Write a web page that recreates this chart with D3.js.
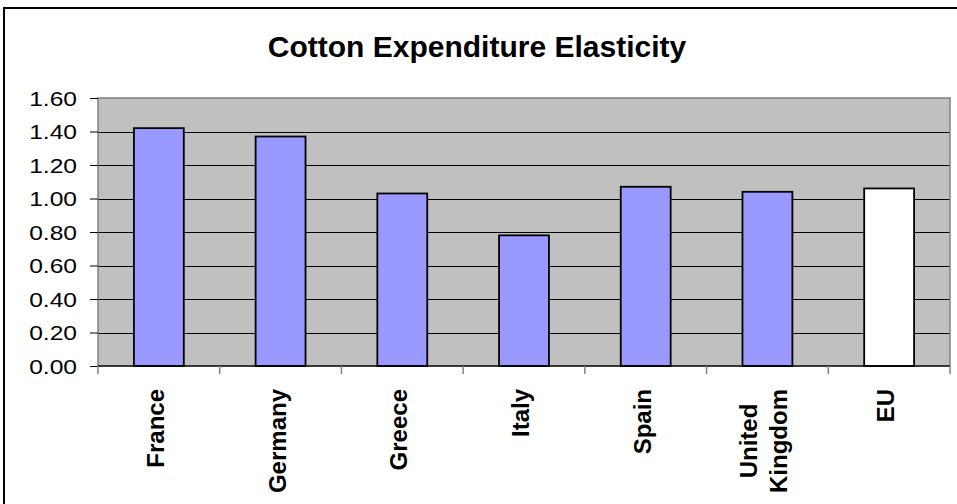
<!DOCTYPE html>
<html>
<head>
<meta charset="utf-8">
<script src="https://cdn.jsdelivr.net/npm/d3@7"></script>
<style>
  html, body { margin: 0; padding: 0; background: #fff; }
  svg { display: block; }
  text { font-family: Arial, "Liberation Sans", sans-serif; fill: #000; }
</style>
</head>
<body>
<svg id="chart" width="957" height="504"></svg>
<script>
// Chart data
const title = "Cotton Expenditure Elasticity";
const categories = ["France", "Germany", "Greece", "Italy", "Spain", "United Kingdom", "EU"];
const categoryLines = [["France"], ["Germany"], ["Greece"], ["Italy"], ["Spain"], ["United", "Kingdom"], ["EU"]];
const elasticity = [1.42, 1.37, 1.03, 0.78, 1.07, 1.04, 1.06];
const highlighted = ["EU"];
const yTicks = [0, 0.2, 0.4, 0.6, 0.8, 1.0, 1.2, 1.4, 1.6];

const W = 957, H = 504;
const plot = { left: 98, right: 950, top: 98, bottom: 366 };

const svg = d3.select("#chart");

// Outer chart frame (runs past the right and bottom edges of the page)
svg.append("rect")
  .attr("x", 4).attr("y", 8)
  .attr("width", 980).attr("height", 520)
  .attr("fill", "#fff")
  .attr("stroke", "#000")
  .attr("stroke-width", 2);

// Title
svg.append("text")
  .attr("x", 477).attr("y", 57)
  .attr("text-anchor", "middle")
  .style("font-size", "30px")
  .style("font-weight", "bold")
  .text(title);

const x = d3.scaleBand()
  .domain(categories)
  .range([plot.left, plot.right])
  .paddingInner(0).paddingOuter(0);

const y = d3.scaleLinear()
  .domain([0, 1.6])
  .range([plot.bottom, plot.top]);

// Plot area background
svg.append("rect")
  .attr("x", plot.left).attr("y", plot.top)
  .attr("width", plot.right - plot.left)
  .attr("height", plot.bottom - plot.top)
  .attr("fill", "#c0c0c0");

// Horizontal gridlines
svg.append("g")
  .selectAll("line")
  .data(yTicks.filter(t => t > 0 && t < 1.6))
  .join("line")
  .attr("x1", plot.left).attr("x2", plot.right)
  .attr("y1", d => Math.round(y(d)) + 0.5)
  .attr("y2", d => Math.round(y(d)) + 0.5)
  .attr("stroke", "#000")
  .attr("stroke-width", 1);

// Plot area border (top, right, left)
svg.append("path")
  .attr("d", `M${plot.left},${plot.bottom} V${plot.top} H${plot.right} V${plot.bottom}`)
  .attr("fill", "none")
  .attr("stroke", "#808080")
  .attr("stroke-width", 1.5);

// Bars
const barFrac = 0.41;
svg.append("g")
  .selectAll("rect")
  .data(categories.map((c, i) => ({ c, v: elasticity[i] })))
  .join("rect")
  .attr("x", d => x(d.c) + x.bandwidth() * (1 - barFrac) / 2)
  .attr("width", x.bandwidth() * barFrac)
  .attr("y", d => y(d.v))
  .attr("height", d => y(0) - y(d.v))
  .attr("fill", d => highlighted.includes(d.c) ? "#ffffff" : "#9999ff")
  .attr("stroke", "#000")
  .attr("stroke-width", 1.8);

// Y axis
const yAxis = d3.axisLeft(y)
  .tickValues(yTicks)
  .tickSize(8)
  .tickPadding(0)
  .tickFormat(d3.format(".2f"));

const gy = svg.append("g")
  .attr("transform", `translate(${plot.left},0)`)
  .call(yAxis);
gy.select(".domain").remove();
gy.selectAll(".tick line").attr("stroke", "#000").attr("stroke-width", 1);
gy.selectAll(".tick text").remove();
gy.selectAll(".tick")
  .append("text")
  .attr("text-anchor", "end")
  .attr("transform", "translate(-21,0) scale(1.2,1)")
  .attr("dy", "0.36em")
  .style("font-size", "20.5px")
  .text(d => d3.format(".2f")(d));

// X axis: baseline and category boundary ticks
svg.append("line")
  .attr("x1", plot.left).attr("x2", plot.right)
  .attr("y1", plot.bottom).attr("y2", plot.bottom)
  .attr("stroke", "#000")
  .attr("stroke-width", 1.5);

const boundaries = categories.map(c => x(c)).concat([plot.right]);
svg.append("g")
  .selectAll("line")
  .data(boundaries)
  .join("line")
  .attr("x1", d => d).attr("x2", d => d)
  .attr("y1", plot.bottom).attr("y2", plot.bottom + 8)
  .attr("stroke", "#808080")
  .attr("stroke-width", 1.5);

// Rotated category labels; lines of a label centred on each other, block top-aligned
const labelTop = 389;
const lineGap = 30;
categories.forEach((c, i) => {
  const lines = categoryLines[i];
  const cx = x(c) + x.bandwidth() / 2;
  const g = svg.append("g");
  const texts = lines.map((ln, j) => g.append("text")
    .attr("text-anchor", "middle")
    .style("font-size", "24px")
    .style("font-weight", "bold")
    .text(ln));
  const maxLen = d3.max(texts, t => t.node().getComputedTextLength());
  const cy = labelTop + maxLen / 2;
  texts.forEach((t, j) => {
    const bx = cx + 5 + (j - (lines.length - 1) / 2) * lineGap;
    t.attr("transform", `translate(${bx},${cy}) rotate(-90)`);
  });
});
</script>
</body>
</html>
